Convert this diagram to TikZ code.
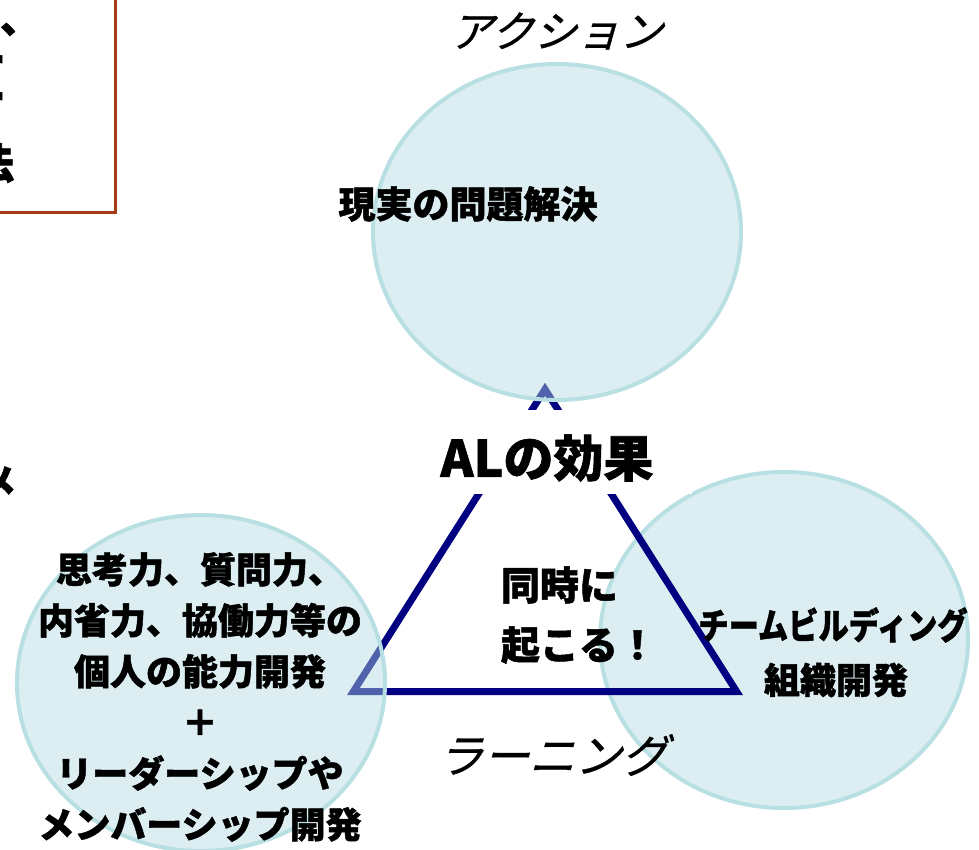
\documentclass[tikz,border=0pt]{standalone}
\usepackage{fontspec}
\usepackage{graphicx}
\usetikzlibrary{shapes.geometric}
\newfontfamily\jp{Noto Sans CJK JP}[BoldFeatures={FakeBold=1.3}]
\newfontfamily\jpsl{Noto Sans CJK JP}[FakeSlant=0.28, FakeBold=0.7]
\newcommand{\heavy}{\bfseries}
\newcommand{\myfs}[2]{\fontsize{#1}{#2}\selectfont}
\definecolor{bubblefill}{RGB}{178,218,224}
\definecolor{bubbleline}{RGB}{184,223,226}
\definecolor{trinavy}{RGB}{0,0,128}
\definecolor{boxbrown}{RGB}{165,60,25}
\begin{document}
\begin{tikzpicture}[x=1pt,y=-1pt,
  bubble/.style={ellipse, inner sep=0pt, minimum width=368pt, minimum height=336pt,
    fill=bubblefill, fill opacity=0.45, draw=bubbleline, draw opacity=1, line width=4pt},
  tri/.style={draw=trinavy, line width=7pt, line join=miter},
  lbl/.style={inner sep=0pt, outer sep=0pt, text=black, font=\jp\heavy\myfs{36}{51}},
  slant/.style={inner sep=0pt, outer sep=0pt, text=black, font=\jpsl\myfs{43}{43}}]
\useasboundingbox (0,0) rectangle (979,849);
% cropped box at top-left
\node[draw=boxbrown, line width=3pt, inner sep=0pt, minimum width=130pt, minimum height=230pt] (oldbox) at (50,97.5) {};
\node[lbl, font=\jp\heavy\myfs{40}{40}, anchor=base west] (frag1) at (0,33) {、};
\node[lbl, font=\jp\heavy\myfs{40}{40}, anchor=east] (frag2) at (5.5,65) {ー};
\node[lbl, font=\jp\heavy\myfs{40}{40}, anchor=east] (frag3) at (5.5,102) {ー};
\node[lbl, font=\jp\heavy\myfs{42}{42}, anchor=east] (frag4) at (14,163) {法};
\node[lbl, font=\jp\heavy\myfs{36}{36}, anchor=east] (frag5) at (16,482) {メ};
% right bubble (behind triangle)
\node[bubble] (team) at (784,640) {};
% triangle
\coordinate (apex) at (545,389.3);
\coordinate (lv) at (353.4,691.5);
\coordinate (rv) at (736.6,691.5);
\draw[tri] (lv) -- (apex) -- (rv) -- cycle;
% white patch behind title
\node[fill=white, inner sep=0pt, minimum width=272pt, minimum height=84pt] (patch) at (556,452) {};
% front bubbles
\node[bubble] (action) at (557,232) {};
\node[bubble] (person) at (201,683) {};
% texts
\node[slant] (tAction) at (556,31) {アクション};
\node[slant, font=\jpsl\myfs{46}{46}] (tLearning) at (552,755) {ラーニング};
\node[lbl, font=\jp\heavy\myfs{37}{37}] (tReal) at (468,204) {現実の問題解決};
\node[lbl, font=\jp\heavy\myfs{50}{50}] (tTitle) at (547,458) {ALの効果};
\node[lbl, font=\jp\heavy\myfs{39}{39}, anchor=west] (tSim1) at (501,585) {同時に};
\node[lbl, font=\jp\heavy\myfs{39}{39}, anchor=west] (tSim2) at (501,645) {起こる！};
\node[lbl, align=center] (tPerson) at (200,697) {思考力、質問力、\\内省力、協働力等の\\個人の能力開発\\＋\\リーダーシップや\\メンバーシップ開発};
\node[lbl] (tTeam1) at (833,625) {\scalebox{0.84}[1]{チームビルディング}};
\node[lbl] (tTeam2) at (836,680) {組織開発};
\end{tikzpicture}
\end{document}
